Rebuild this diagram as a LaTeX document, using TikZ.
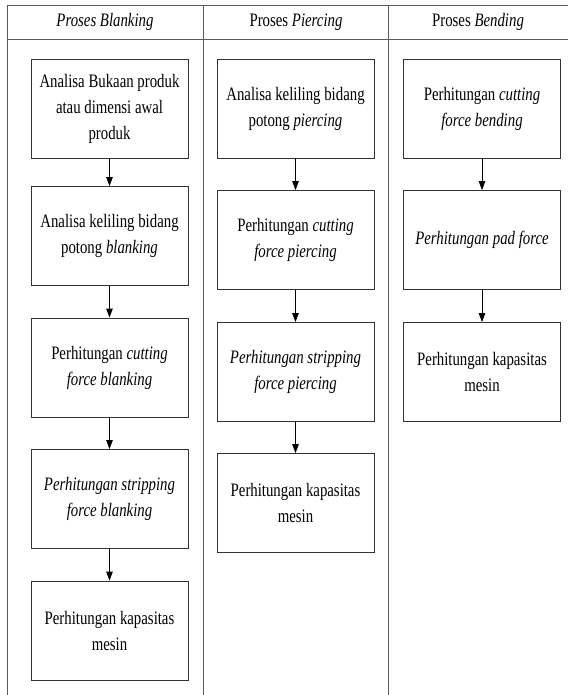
\documentclass[tikz,border=0pt]{standalone}
\usepackage{fontspec}
\setmainfont{Liberation Serif}[FakeStretch=0.78]
\usetikzlibrary{arrows.meta}
\definecolor{rulec}{HTML}{5A5A5A}
\definecolor{edgec}{HTML}{333333}
\tikzset{
  frame/.style={draw=rulec, line width=0.9pt},
  stepbox/.style={draw=edgec, line width=0.8pt, fill=white, align=center,
                  minimum width=157pt, minimum height=99pt, inner sep=0pt,
                  font=\fontsize{19}{26}\selectfont},
  head/.style={font=\fontsize{19}{26}\selectfont, inner sep=0pt},
  arr/.style={-{Triangle[length=9pt,width=6.5pt]}, line width=0.8pt},
}

\begin{document}
\begin{tikzpicture}[x=1pt, y=-1pt]
\useasboundingbox (0,0) rectangle (568,695);

% lanes
\draw[frame] (7,5.5) -- (568,5.5);
\draw[frame] (7,39) -- (568,39);
\draw[frame] (7,5.5) -- (7,695);
\draw[frame] (203.5,5.5) -- (203.5,695);
\draw[frame] (388.5,5.5) -- (388.5,695);
\node[head] (hb) at (105,22) {\textit{Proses Blanking}};
\node[head] (hp) at (296,22) {Proses \textit{Piercing}};
\node[head] (hn) at (478,22) {Proses \textit{Bending}};

% ---------------- blanking ----------------
\node[stepbox] (b1) at (109.5,108.5) {Analisa Bukaan produk\\atau dimensi awal\\produk};
\node[stepbox] (b2) at (109.5,236) {Analisa keliling bidang\\potong \textit{blanking}};
\node[stepbox] (b3) at (109.5,367.5) {Perhitungan \textit{cutting}\\\textit{force blanking}};
\node[stepbox] (b4) at (109.5,499) {\textit{Perhitungan stripping}\\\textit{force blanking}};
\node[stepbox] (b5) at (109.5,630.5) {Perhitungan kapasitas\\mesin};

% ---------------- piercing ----------------
\node[stepbox] (p1) at (295.5,108.5) {Analisa keliling bidang\\potong \textit{piercing}};
\node[stepbox] (p2) at (295.5,240) {Perhitungan \textit{cutting}\\\textit{force piercing}};
\node[stepbox] (p3) at (295.5,372) {\textit{Perhitungan stripping}\\\textit{force piercing}};
\node[stepbox] (p4) at (295.5,503) {Perhitungan kapasitas\\mesin};

% ---------------- bending ----------------
\node[stepbox] (n1) at (482,108.5) {Perhitungan \textit{cutting}\\\textit{force bending}};
\node[stepbox] (n2) at (482,240) {\textit{Perhitungan pad force}};
\node[stepbox] (n3) at (482,372) {Perhitungan kapasitas\\mesin};

\foreach \a/\b in {b1/b2, b2/b3, b3/b4, b4/b5, p1/p2, p2/p3, p3/p4, n1/n2, n2/n3}
  \draw[arr] (\a.south) -- (\b.north);
\end{tikzpicture}
\end{document}
